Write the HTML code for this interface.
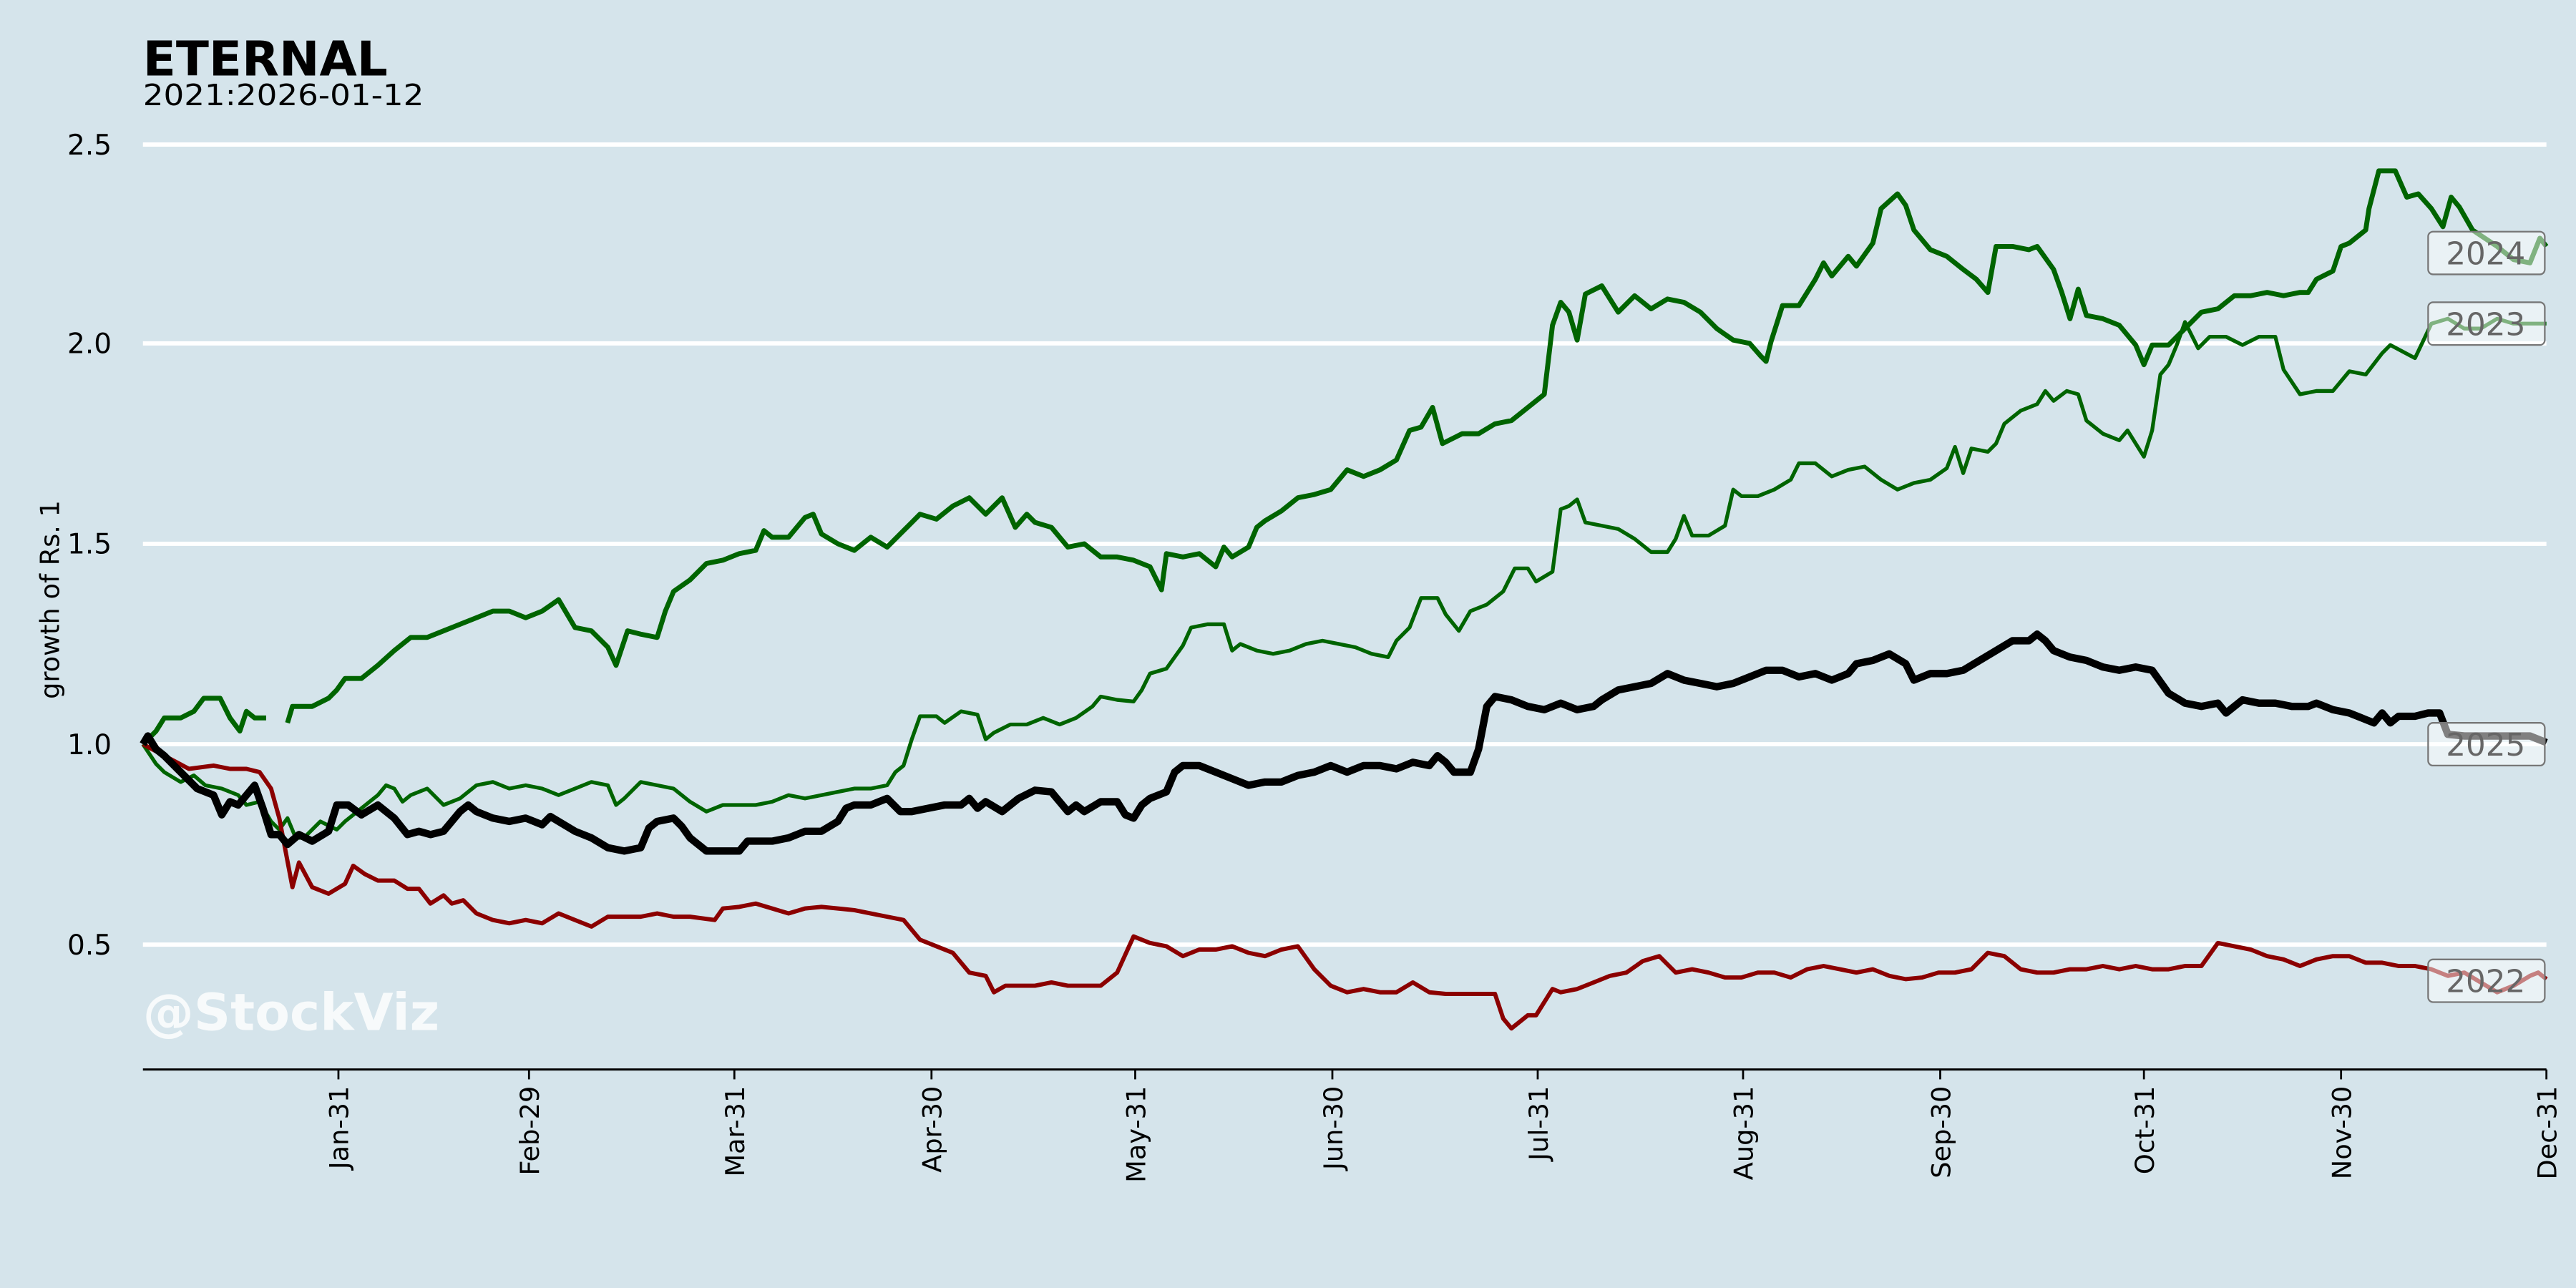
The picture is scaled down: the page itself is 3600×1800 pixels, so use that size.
<!DOCTYPE html>
<html><head><meta charset="utf-8"><style>
html,body{margin:0;padding:0;background:#d5e4eb;}
svg{display:block;font-family:"DejaVu Sans","Liberation Sans",sans-serif;}
</style></head><body>
<svg width="3600" height="1800" viewBox="0 0 1568 784" xmlns="http://www.w3.org/2000/svg">
<rect width="1568" height="784" fill="#d5e4eb"/>
<g stroke="#fff" stroke-width="2.6">
<line x1="87" x2="1550" y1="88" y2="88"/><line x1="87" x2="1550" y1="209" y2="209"/>
<line x1="87" x2="1550" y1="331" y2="331"/><line x1="87" x2="1550" y1="453" y2="453"/>
<line x1="87" x2="1550" y1="575" y2="575"/>
</g>
<text x="87" y="46" font-size="29" font-weight="bold" textLength="149" lengthAdjust="spacingAndGlyphs">ETERNAL</text>
<text x="87" y="64" font-size="18" textLength="171" lengthAdjust="spacingAndGlyphs">2021:2026-01-12</text>
<g font-size="17" text-anchor="end">
<text x="68" y="94">2.5</text><text x="68" y="215">2.0</text><text x="68" y="337">1.5</text><text x="68" y="459">1.0</text><text x="68" y="581">0.5</text>
</g>
<text transform="translate(36,365) rotate(-90)" font-size="16" text-anchor="middle">growth of Rs. 1</text>
<text x="87" y="627" font-size="31" font-weight="bold" fill="#fff" fill-opacity="0.8">@StockViz</text>
<line x1="87" x2="1550" y1="651" y2="651" stroke="#000" stroke-width="1.3"/>
<g stroke="#000" stroke-width="1.2">
<line x1="206" x2="206" y1="651" y2="657"/><line x1="322" x2="322" y1="651" y2="657"/><line x1="447" x2="447" y1="651" y2="657"/><line x1="567" x2="567" y1="651" y2="657"/><line x1="691" x2="691" y1="651" y2="657"/><line x1="811" x2="811" y1="651" y2="657"/><line x1="936" x2="936" y1="651" y2="657"/><line x1="1061" x2="1061" y1="651" y2="657"/><line x1="1181" x2="1181" y1="651" y2="657"/><line x1="1305" x2="1305" y1="651" y2="657"/><line x1="1425" x2="1425" y1="651" y2="657"/><line x1="1550" x2="1550" y1="651" y2="657"/>
</g>
<g font-size="16" text-anchor="end">
<text transform="translate(212,661) rotate(-90)">Jan-31</text>
<text transform="translate(328,661) rotate(-90)">Feb-29</text>
<text transform="translate(453,661) rotate(-90)">Mar-31</text>
<text transform="translate(573,661) rotate(-90)">Apr-30</text>
<text transform="translate(697,661) rotate(-90)">May-31</text>
<text transform="translate(817,661) rotate(-90)">Jun-30</text>
<text transform="translate(942,661) rotate(-90)">Jul-31</text>
<text transform="translate(1067,661) rotate(-90)">Aug-31</text>
<text transform="translate(1187,661) rotate(-90)">Sep-30</text>
<text transform="translate(1311,661) rotate(-90)">Oct-31</text>
<text transform="translate(1431,661) rotate(-90)">Nov-30</text>
<text transform="translate(1556,661) rotate(-90)">Dec-31</text>
</g>
<g fill="none" stroke-linejoin="round">
<polyline stroke="#006400" stroke-width="2.3" points="87,453 95,465 100,470 110,476 118,472 125,478 135,480 145,484 150,490 158,488 165,500 170,505 175,498 180,510 185,510 195,500 205,505 210,500 220,492 230,484 235,478 240,480 245,488 250,484 260,480 270,490 280,486 290,478 300,476 310,480 320,478 330,480 340,484 350,480 360,476 370,478 375,490 380,486 390,476 400,478 410,480 420,488 430,494 440,490 450,490 460,490 470,488 480,484 490,486 500,484 510,482 520,480 530,480 540,478 545,470 550,466 555,450 560,436 570,436 575,440 585,433 595,435 600,450 605,446 615,441 625,441 635,437 645,441 655,437 665,430 670,424 680,426 690,427 695,420 700,410 710,407 715,400 720,393 725,382 735,380 745,380 750,396 755,392 765,396 775,398 785,396 795,392 805,390 815,392 825,394 835,398 845,400 850,390 858,382 865,364 875,364 880,374 888,384 895,372 905,368 915,360 922,346 930,346 935,354 945,348 950,310 955,308 960,304 965,318 975,320 985,322 995,328 1005,336 1015,336 1020,328 1025,314 1030,326 1040,326 1050,320 1055,298 1060,302 1070,302 1080,298 1090,292 1095,282 1105,282 1115,290 1125,286 1135,284 1145,292 1155,298 1165,294 1175,292 1185,285 1190,272 1195,288 1200,273 1210,275 1215,270 1220,258 1230,250 1240,246 1245,238 1250,244 1258,238 1265,240 1270,256 1280,264 1290,268 1295,262 1300,270 1305,278 1310,262 1315,228 1320,222 1325,210 1330,196 1338,212 1345,205 1355,205 1365,210 1375,205 1385,205 1390,225 1400,240 1410,238 1420,238 1430,226 1440,228 1450,215 1455,210 1470,218 1480,197 1490,194 1500,200 1510,200 1520,194 1530,197 1540,197 1550,197"/>
<polyline stroke="#8b0000" stroke-width="2.6" points="87,453 100,460 115,468 130,466 140,468 150,468 158,470 165,480 170,498 178,540 182,525 190,540 200,544 210,538 215,527 222,532 230,536 240,536 248,541 255,541 262,550 270,545 275,550 282,548 290,556 300,560 310,562 320,560 330,562 340,556 350,560 360,564 370,558 380,558 390,558 400,556 410,558 420,558 435,560 440,553 450,552 460,550 470,553 480,556 490,553 500,552 510,553 520,554 530,556 540,558 550,560 560,572 570,576 580,580 590,592 600,594 605,604 612,600 620,600 630,600 640,598 650,600 660,600 670,600 680,592 690,570 700,574 710,576 720,582 730,578 740,578 750,576 760,580 770,582 780,578 790,576 800,590 810,600 820,604 830,602 840,604 850,604 860,598 870,604 880,605 890,605 900,605 910,605 915,620 920,626 930,618 935,618 940,610 945,602 950,604 960,602 970,598 980,594 990,592 1000,585 1010,582 1020,592 1030,590 1040,592 1050,595 1060,595 1070,592 1080,592 1090,595 1100,590 1110,588 1120,590 1130,592 1140,590 1150,594 1160,596 1170,595 1180,592 1190,592 1200,590 1210,580 1220,582 1230,590 1240,592 1250,592 1260,590 1270,590 1280,588 1290,590 1300,588 1310,590 1320,590 1330,588 1340,588 1350,574 1360,576 1370,578 1380,582 1390,584 1400,588 1410,584 1420,582 1430,582 1440,586 1450,586 1460,588 1470,588 1480,590 1490,594 1500,592 1510,598 1520,604 1530,600 1540,594 1545,592 1550,596"/>
<polyline stroke="#006400" stroke-width="3" points="87,453 95,445 100,437 110,437 118,433 124,425 134,425 140,437 146,445 150,433 155,437 162,437"/>
<polyline stroke="#006400" stroke-width="3" points="175,440 178,430 190,430 200,425 205,420 210,413 220,413 230,405 240,396 250,388 260,388 270,384 280,380 290,376 300,372 310,372 320,376 330,372 340,365 350,382 360,384 370,394 375,405 382,384 390,386 400,388 405,372 410,360 420,353 430,343 440,341 450,337 460,335 465,323 470,327 480,327 490,315 495,313 500,325 510,331 520,335 530,327 540,333 550,323 560,313 570,316 580,308 590,303 600,313 610,303 618,321 625,313 630,318 640,321 650,333 660,331 670,339 680,339 690,341 700,345 707,359 710,337 720,339 730,337 740,345 745,333 750,339 760,333 765,321 770,317 780,311 790,303 800,301 810,298 820,286 830,290 840,286 850,280 858,262 865,260 872,248 878,270 890,264 900,264 910,258 920,256 930,248 940,240 945,198 950,184 955,190 960,207 965,179 975,174 985,190 995,180 1005,188 1015,182 1025,184 1035,190 1045,200 1055,207 1065,209 1072,217 1075,220 1078,208 1085,186 1095,186 1105,170 1110,160 1115,168 1125,156 1130,162 1140,148 1145,127 1155,118 1160,125 1165,140 1175,152 1185,156 1195,164 1203,170 1210,178 1215,150 1225,150 1235,152 1240,150 1250,164 1255,178 1260,194 1265,176 1270,192 1280,194 1290,198 1300,210 1305,222 1310,210 1320,210 1330,200 1340,190 1350,188 1360,180 1370,180 1380,178 1390,180 1400,178 1405,178 1410,170 1420,165 1425,150 1430,148 1440,140 1442,127 1448,104 1458,104 1465,120 1472,118 1480,127 1487,138 1492,120 1497,126 1505,140 1520,150 1530,158 1540,160 1546,145 1550,150"/>
<polyline stroke="#000" stroke-width="4.5" points="87,453 90,448 95,456 100,460 110,470 120,480 130,484 135,496 140,488 145,490 150,484 155,478 160,492 165,508 170,508 175,514 182,508 190,512 200,506 205,490 212,490 220,496 230,490 240,498 248,508 255,506 262,508 270,506 280,494 285,490 290,494 300,498 310,500 320,498 330,502 335,497 340,500 350,506 360,510 370,516 380,518 390,516 395,504 400,500 410,498 415,503 420,510 430,518 440,518 450,518 455,512 460,512 470,512 480,510 490,506 500,506 510,500 515,492 520,490 530,490 540,486 548,494 555,494 565,492 575,490 585,490 590,486 595,492 600,488 610,494 620,486 630,481 640,482 650,494 655,490 660,494 670,488 680,488 685,496 690,498 695,490 700,486 710,482 715,470 720,466 730,466 740,470 750,474 760,478 770,476 780,476 790,472 800,470 810,466 820,470 830,466 840,466 850,468 860,464 870,466 875,460 880,464 885,470 895,470 900,456 905,430 910,424 920,426 930,430 940,432 950,428 960,432 970,430 975,426 985,420 995,418 1005,416 1015,410 1025,414 1035,416 1045,418 1055,416 1065,412 1075,408 1085,408 1095,412 1105,410 1115,414 1125,410 1130,404 1140,402 1150,398 1160,404 1165,414 1175,410 1185,410 1195,408 1205,402 1215,396 1225,390 1235,390 1240,386 1245,390 1250,396 1260,400 1270,402 1280,406 1290,408 1300,406 1310,408 1320,422 1330,428 1340,430 1350,428 1355,434 1365,426 1375,428 1385,428 1395,430 1405,430 1410,428 1420,432 1430,434 1440,438 1445,440 1450,434 1455,440 1460,436 1470,436 1478,434 1485,434 1490,447 1500,448 1510,448 1530,448 1540,448 1545,450 1550,452"/>
</g>
<g font-size="19" fill="#666" text-anchor="middle">
<rect x="1478" y="141" width="71" height="26" rx="3" fill="#fff" fill-opacity="0.5" stroke="#777" stroke-width="1"/>
<text x="1513" y="161">2024</text>
<rect x="1478" y="184" width="71" height="26" rx="3" fill="#fff" fill-opacity="0.5" stroke="#777" stroke-width="1"/>
<text x="1513" y="204">2023</text>
<rect x="1478" y="440" width="71" height="26" rx="3" fill="#fff" fill-opacity="0.5" stroke="#777" stroke-width="1"/>
<text x="1513" y="460">2025</text>
<rect x="1478" y="584" width="71" height="26" rx="3" fill="#fff" fill-opacity="0.5" stroke="#777" stroke-width="1"/>
<text x="1513" y="604">2022</text>
</g>
</svg>
</body></html>
